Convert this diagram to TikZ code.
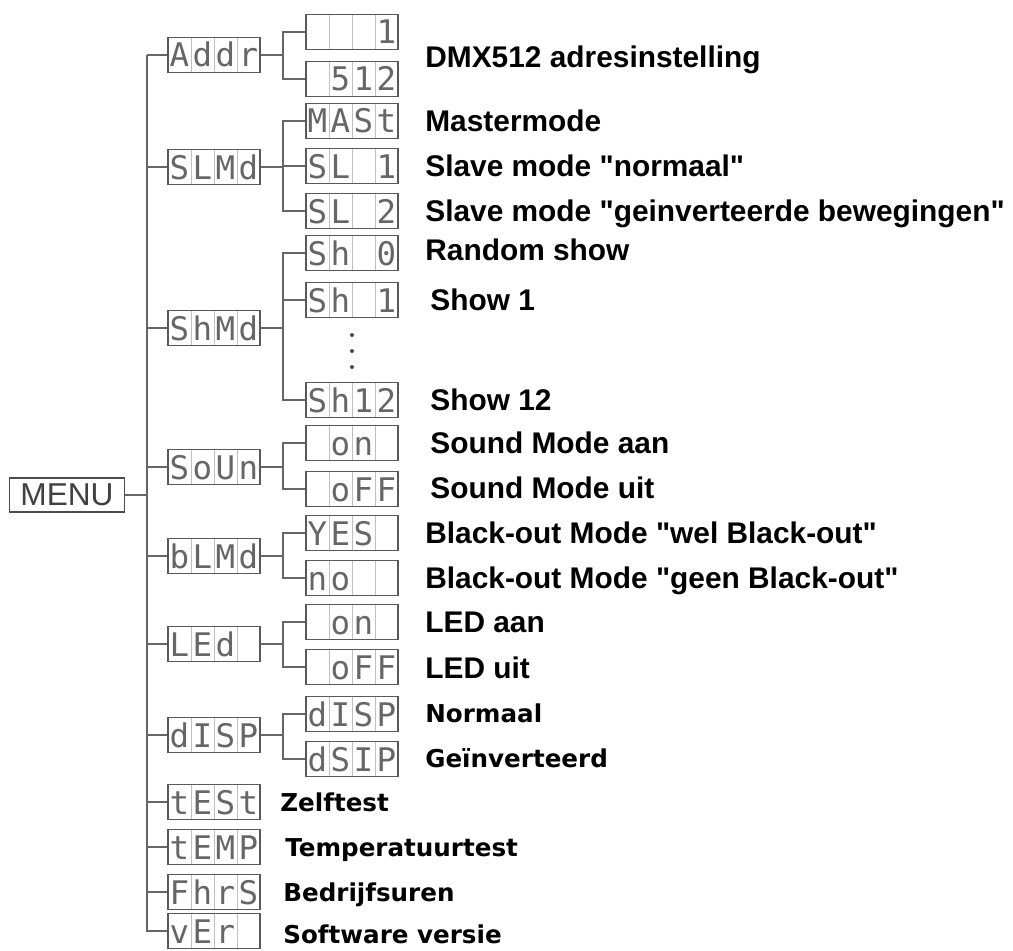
\documentclass[tikz,border=0pt]{standalone}
\usepackage{fontspec}
\setmainfont{Liberation Sans}
\newfontfamily\lcdfont{DejaVu Sans Mono}
\newfontfamily\dvfont{DejaVu Sans}
\newcommand{\cells}[4]{\makebox[0.46cm]{#1}\makebox[0.46cm]{#2}\makebox[0.46cm]{#3}\makebox[0.46cm]{#4}}
\newcommand{\qq}{\textquotedbl}
\tikzset{
  lcd/.style={draw=black!65, line width=0.9pt, inner sep=0pt,
    minimum width=1.84cm, minimum height=0.7cm, text height=0.48cm, text depth=0cm,
    text=black!60, font=\lcdfont\fontsize{18.5}{20}\selectfont,
    path picture={\foreach \k in {1,2,3}{\draw[black!25, line width=0.5pt]
      ([xshift=\k*0.46cm]path picture bounding box.north west) --
      ([xshift=\k*0.46cm]path picture bounding box.south west);}}},
  conn/.style={draw=black!60, line width=0.8pt},
  desc/.style={anchor=west, inner sep=0pt, text height=0.43cm, text depth=0cm,
    font=\bfseries\fontsize{17}{20}\selectfont},
  descb/.style={anchor=west, inner sep=0pt, text height=0.36cm, text depth=0cm,
    font=\dvfont\bfseries\fontsize{14}{16}\selectfont},
  vdot/.style={circle, fill=black!70, inner sep=0pt, minimum size=0.08cm}
}
\begin{document}
\begin{tikzpicture}[x=0.02cm,y=-0.02cm]
    \useasboundingbox (0,0) rectangle (1013,950);
    \coordinate (trunk) at (147,0);
    \coordinate (fork) at (283,0);
    % main menu
    \node[draw=black!70, line width=0.9pt, minimum width=2.3cm, minimum height=0.68cm,
      inner sep=0pt, text=black!75, font=\fontsize{18}{20}\selectfont] (menu) at (67,495) {MENU};
    % first level
    \node[lcd] (addr) at (214,55) {\cells{A}{d}{d}{r}};
    \node[lcd] (slmd) at (214,167) {\cells{S}{L}{M}{d}};
    \node[lcd] (shmd) at (214,328) {\cells{S}{h}{M}{d}};
    \node[lcd] (soun) at (214,467) {\cells{S}{o}{U}{n}};
    \node[lcd] (blmd) at (214,556) {\cells{b}{L}{M}{d}};
    \node[lcd] (led) at (214,644) {\cells{L}{E}{d}{}};
    \node[lcd] (disp) at (214,735) {\cells{d}{I}{S}{P}};
    \node[lcd] (test) at (214,802) {\cells{t}{E}{S}{t}};
    \node[lcd] (temp) at (214,847) {\cells{t}{E}{M}{P}};
    \node[lcd] (fhrs) at (214,892) {\cells{F}{h}{r}{S}};
    \node[lcd] (ver) at (214,931) {\cells{v}{E}{r}{}};
    % second level
    \node[lcd] (addrlo) at (352,32) {\cells{}{}{}{1}};
    \node[lcd] (addrhi) at (352,79) {\cells{}{5}{1}{2}};
    \node[lcd] (mast) at (352,121) {\cells{M}{A}{S}{t}};
    \node[lcd] (slone) at (352,166) {\cells{S}{L}{}{1}};
    \node[lcd] (sltwo) at (352,211) {\cells{S}{L}{}{2}};
    \node[lcd] (shzero) at (352,253) {\cells{S}{h}{}{0}};
    \node[lcd] (shone) at (352,300) {\cells{S}{h}{}{1}};
    \node[lcd] (shtwelve) at (352,400) {\cells{S}{h}{1}{2}};
    \node[lcd] (sndon) at (352,443) {\cells{}{o}{n}{}};
    \node[lcd] (sndoff) at (352,489) {\cells{}{o}{F}{F}};
    \node[lcd] (boyes) at (352,533) {\cells{Y}{E}{S}{}};
    \node[lcd] (bono) at (352,578) {\cells{n}{o}{}{}};
    \node[lcd] (ledon) at (352,622) {\cells{}{o}{n}{}};
    \node[lcd] (ledoff) at (352,667) {\cells{}{o}{F}{F}};
    \node[lcd] (dispn) at (352,714) {\cells{d}{I}{S}{P}};
    \node[lcd] (dispi) at (352,759) {\cells{d}{S}{I}{P}};
    \node[vdot] (dota) at (352,335) {};
    \node[vdot] (dotb) at (352,351) {};
    \node[vdot] (dotc) at (352,367) {};
    % trunk
    \draw[conn] (menu.east) -- (menu.east -| trunk);
    \draw[conn] (addr.west -| trunk) -- (ver.west -| trunk) -- (ver.west);
    \draw[conn] (addr.west) -- (addr.west -| trunk);
    \draw[conn] (slmd.west) -- (slmd.west -| trunk);
    \draw[conn] (shmd.west) -- (shmd.west -| trunk);
    \draw[conn] (soun.west) -- (soun.west -| trunk);
    \draw[conn] (blmd.west) -- (blmd.west -| trunk);
    \draw[conn] (led.west) -- (led.west -| trunk);
    \draw[conn] (disp.west) -- (disp.west -| trunk);
    \draw[conn] (test.west) -- (test.west -| trunk);
    \draw[conn] (temp.west) -- (temp.west -| trunk);
    \draw[conn] (fhrs.west) -- (fhrs.west -| trunk);
    % forks
    \draw[conn] (addrlo.west) -| (addr.east -| fork) -- (addr.east);
    \draw[conn] (addrhi.west) -| (addr.east -| fork);
    \draw[conn] (mast.west) -| (slmd.east -| fork) -- (slmd.east);
    \draw[conn] (slone.west) -| (slmd.east -| fork);
    \draw[conn] (sltwo.west) -| (slmd.east -| fork);
    \draw[conn] (shzero.west) -| (shmd.east -| fork) -- (shmd.east);
    \draw[conn] (shone.west) -| (shmd.east -| fork);
    \draw[conn] (shtwelve.west) -| (shmd.east -| fork);
    \draw[conn] (sndon.west) -| (soun.east -| fork) -- (soun.east);
    \draw[conn] (sndoff.west) -| (soun.east -| fork);
    \draw[conn] (boyes.west) -| (blmd.east -| fork) -- (blmd.east);
    \draw[conn] (bono.west) -| (blmd.east -| fork);
    \draw[conn] (ledon.west) -| (led.east -| fork) -- (led.east);
    \draw[conn] (ledoff.west) -| (led.east -| fork);
    \draw[conn] (dispn.west) -| (disp.east -| fork) -- (disp.east);
    \draw[conn] (dispi.west) -| (disp.east -| fork);
    % labels
    \node[desc] (ldmx) at (425,57) {DMX512 adresinstelling};
    \node[desc] (lmast) at (425,121) {Mastermode};
    \node[desc] (lslone) at (425,166) {Slave mode \qq normaal\qq};
    \node[desc] (lsltwo) at (425,211) {Slave mode \qq geinverteerde bewegingen\qq};
    \node[desc] (lrandom) at (425,250) {Random show};
    \node[desc] (lshone) at (430,300) {Show 1};
    \node[desc] (lshtwelve) at (430,400) {Show 12};
    \node[desc] (lsndon) at (430,443) {Sound Mode aan};
    \node[desc] (lsndoff) at (430,488) {Sound Mode uit};
    \node[desc] (lboyes) at (425,533) {Black-out Mode \qq wel Black-out\qq};
    \node[desc] (lbono) at (425,578) {Black-out Mode \qq geen Black-out\qq};
    \node[desc] (lledon) at (425,622) {LED aan};
    \node[desc] (lledoff) at (425,668) {LED uit};
    \node[descb] (lnorm) at (425,713) {Normaal};
    \node[descb] (linv) at (425,758) {Geïnverteerd};
    \node[descb] (ltest) at (280,802) {Zelftest};
    \node[descb] (ltemp) at (285,847) {Temperatuurtest};
    \node[descb] (lfhrs) at (283,892) {Bedrijfsuren};
    \node[descb] (lver) at (283,934) {Software versie};
\end{tikzpicture}
\end{document}
